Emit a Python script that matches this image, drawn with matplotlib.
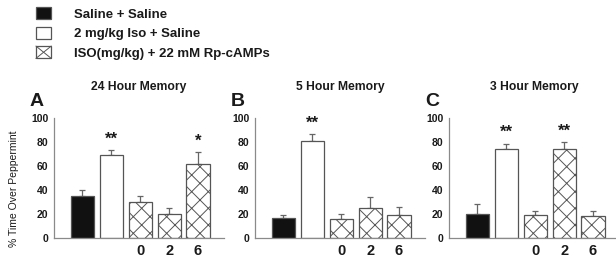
import matplotlib
matplotlib.use('Agg')
import matplotlib.pyplot as plt
from matplotlib.patches import Patch, Rectangle
from matplotlib.lines import Line2D
from matplotlib.legend_handler import HandlerBase

## dados ##
grupos = ['Saline + Saline', '2 mg/kg Iso + Saline', 'ISO(mg/kg) + 22 mM Rp-cAMPs']
doses = ['0', '2', '6']
titulos = ['24 Hour Memory', '5 Hour Memory', '3 Hour Memory']
letras = ['A', 'B', 'C']

mem24 = [35, 69, 30, 20, 62]
err24 = [5, 4, 5, 5, 9.5]
est24 = ['', '**', '', '', '*']

mem5 = [17, 81, 16, 25, 19.5]
err5 = [2, 5.5, 4, 9, 6]
est5 = ['', '**', '', '', '']

mem3 = [20, 74.5, 19, 74.5, 18.5]
err3 = [8, 4, 3.5, 5.5, 4]
est3 = ['', '**', '', '**', '']

valores = [mem24, mem5, mem3]
erros = [err24, err5, err3]
estrelas = [est24, est5, est3]

plt.rcParams['font.family'] = ['Liberation Sans', 'DejaVu Sans']
plt.rcParams['hatch.linewidth'] = 0.7

cor_texto = '#1a1a1a'
cor_borda = '#555555'
cor_eixo = '#8a8a8a'


## quadradinho com um X só, igual ao da figura original ##
class HandlerX(HandlerBase):
    def create_artists(self, legend, orig_handle, xdescent, ydescent, width, height, fontsize, trans):
        x0, y0 = -xdescent, -ydescent
        r = Rectangle((x0, y0), width, height, facecolor='white', edgecolor=cor_borda,
                      linewidth=0.9, transform=trans)
        l1 = Line2D([x0, x0 + width], [y0, y0 + height], color=cor_borda, linewidth=0.7, transform=trans)
        l2 = Line2D([x0, x0 + width], [y0 + height, y0], color=cor_borda, linewidth=0.7, transform=trans)
        return [r, l1, l2]


fig = plt.figure(figsize=(6.16, 2.58), dpi=100)

lefts = [54, 255, 449]
for i in range(3):
    ax = fig.add_axes([lefts[i] / 616, 20 / 258, 170 / 616, 120 / 258])
    x = list(range(5))
    cores = ['#111111', 'white', 'white', 'white', 'white']
    hatches = ['', '', 'xx', 'xx', 'xx']
    for j in x:
        ax.bar(j, valores[i][j], width=0.8, color=cores[j], edgecolor=cor_borda,
               linewidth=0.9, hatch=hatches[j], zorder=2)
    ax.errorbar(x, valores[i], yerr=[[0] * 5, erros[i]], fmt='none', ecolor='#666666',
                elinewidth=0.9, capsize=2, capthick=0.9, zorder=1)
    for j in x:
        if estrelas[i][j]:
            ax.text(j, valores[i][j] + erros[i][j] + 3, estrelas[i][j], ha='center', va='bottom',
                    fontsize=12, fontweight='bold', color=cor_texto)
    ax.set_xlim(-0.98, 4.9)
    ax.set_ylim(0, 100)
    ax.set_yticks([0, 20, 40, 60, 80, 100])
    ax.set_xticks([2, 3, 4])
    ax.set_xticklabels(doses, fontsize=10.5, fontweight='bold', color=cor_texto)
    for t in ax.get_yticklabels():
        t.set_fontweight('bold')
        t.set_fontsize(7.5)
        t.set_color(cor_texto)
    ax.tick_params(axis='y', length=0, pad=4)
    ax.tick_params(axis='x', length=0, pad=4)
    for s in ['top', 'right']:
        ax.spines[s].set_visible(False)
    for s in ['left', 'bottom']:
        ax.spines[s].set_color(cor_eixo)
        ax.spines[s].set_linewidth(0.9)
    ax.text(0.5, 1.26, titulos[i], transform=ax.transAxes, ha='center', va='center',
            fontsize=8.7, fontweight='bold', color=cor_texto)
    ax.text(-0.1, 1.14, letras[i], transform=ax.transAxes, ha='center', va='center',
            fontsize=14, fontweight='bold', color=cor_texto)

fig.text(0.022, 0.27, '% Time Over Peppermint', rotation=90, ha='center', va='center',
         fontsize=7.5, color=cor_texto)

## legenda ##
handles = [Patch(facecolor='#111111', edgecolor=cor_borda, linewidth=0.9),
           Patch(facecolor='white', edgecolor=cor_borda, linewidth=0.9),
           Patch(facecolor='white', edgecolor=cor_borda, linewidth=0.9, hatch='x')]
leg = fig.legend(handles, grupos, loc='upper left', bbox_to_anchor=(36 / 616, 1 - 7 / 258),
                 frameon=False, fontsize=9.5, handlelength=1.15, handleheight=1.05,
                 handletextpad=1.7, labelspacing=0.45, borderpad=0, borderaxespad=0,
                 handler_map={handles[2]: HandlerX()})
for t in leg.get_texts():
    t.set_fontweight('bold')
    t.set_color(cor_texto)

plt.savefig('out.png', dpi=100)
